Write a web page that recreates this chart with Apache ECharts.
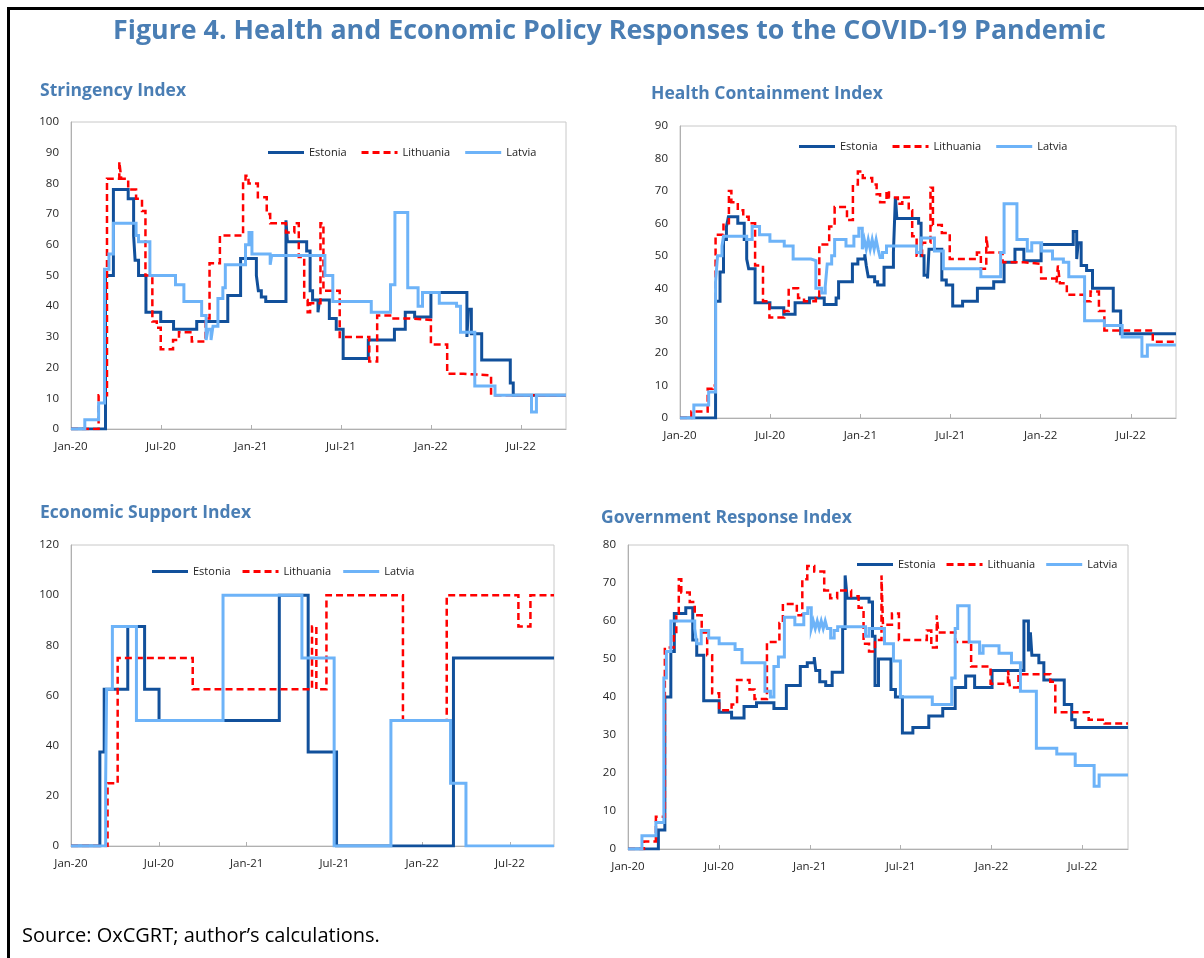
<!DOCTYPE html>
<html>
<head>
<meta charset="utf-8">
<script src="https://cdn.jsdelivr.net/npm/echarts@6/dist/echarts.min.js"></script>
<style>
html,body{margin:0;padding:0;background:#fff;}
#wrap{position:relative;width:1204px;height:958px;}
#chart{position:absolute;left:0;top:0;width:1204px;height:958px;}
#frame{position:absolute;left:7px;top:7px;right:-5px;bottom:-5px;border-left:3px solid #000;border-top:3px solid #000;pointer-events:none;}
</style>
</head>
<body>
<div id="wrap"><div id="chart"></div><div id="frame"></div></div>
<script>
// ---------------- DATA ----------------
const figureTitle = 'Figure 4. Health and Economic Policy Responses to the COVID-19 Pandemic';
const panelTitles = ['Stringency Index', 'Health Containment Index', 'Economic Support Index', 'Government Response Index'];
const countries = ['Estonia', 'Lithuania', 'Latvia'];
const tickLabels = ['Jan-20', 'Jul-20', 'Jan-21', 'Jul-21', 'Jan-22', 'Jul-22'];
const startDate = '2020-01-01';
const endDate = '2022-10-01';
const sourceNote = 'Source: OxCGRT; author\u2019s calculations.';

// Stringency Index
const stringencyEstonia = [['2020-01-01',0],['2020-03-11',50],['2020-03-27',78],['2020-04-26',75],['2020-05-07',63],['2020-05-10',55],['2020-05-17',50],['2020-06-01',38],['2020-07-01',35],['2020-07-27',32.5],['2020-09-12',35],['2020-11-14',43.5],['2020-12-10',55.5],['2021-01-11',50],['2021-01-15',45],['2021-01-21',43],['2021-01-30',41.5],['2021-03-12',68],['2021-03-15',61],['2021-04-23',58],['2021-04-30',45],['2021-05-05',42],['2021-05-16',38],['2021-05-19',42],['2021-06-08',36],['2021-06-22',32.5],['2021-07-06',23],['2021-08-26',29],['2021-10-18',32.5],['2021-11-09',38],['2021-11-28',36.5],['2021-12-31',44.5],['2022-03-14',30],['2022-03-17',39],['2022-03-23',31],['2022-04-13',22.5],['2022-06-10',15],['2022-06-16',11],['2022-10-01',11]];
const stringencyLithuania = [['2020-01-01',0],['2020-02-26',11],['2020-03-14',81.5],['2020-04-08',87],['2020-04-12',81.5],['2020-04-26',78],['2020-05-12',75],['2020-05-24',71],['2020-05-31',50],['2020-06-14',35],['2020-06-23',33],['2020-07-01',26],['2020-07-26',29],['2020-08-07',31.5],['2020-09-02',28.5],['2020-09-30',36],['2020-10-08',54],['2020-10-29',63],['2020-12-15',80],['2020-12-20',82.5],['2020-12-26',80],['2021-01-14',75.5],['2021-02-01',70],['2021-02-08',67],['2021-03-12',64],['2021-03-29',67],['2021-04-07',56],['2021-04-18',42],['2021-04-25',38],['2021-04-30',41],['2021-05-21',67],['2021-05-27',45],['2021-06-29',30],['2021-08-28',22],['2021-09-13',37],['2021-10-13',36],['2021-11-17',35.5],['2021-12-31',27.5],['2022-02-02',18],['2022-03-07',17.5],['2022-05-02',11],['2022-10-01',11]];
const stringencyLatvia = [['2020-01-01',0],['2020-01-29',3],['2020-02-26',8.5],['2020-03-09',52],['2020-03-18',57],['2020-03-27',67],['2020-05-12',63],['2020-05-17',61],['2020-06-09',50],['2020-07-31',47],['2020-08-17',41.5],['2020-09-22',37],['2020-10-01',29],['2020-10-05',32.5],['2020-10-11',29],['2020-10-15',33.5],['2020-10-25',42.5],['2020-11-04',46],['2020-11-09',53.5],['2020-12-20',60],['2020-12-27',64],['2021-01-02',57],['2021-02-08',53.5],['2021-02-11',56.5],['2021-05-30',50],['2021-06-15',41.5],['2021-09-01',38],['2021-10-10',47],['2021-10-19',70.5],['2021-11-14',46],['2021-12-05',40],['2021-12-14',44.5],['2022-01-17',41],['2022-02-21',40],['2022-03-01',31.5],['2022-03-30',14],['2022-05-10',11],['2022-07-23',5.5],['2022-08-02',11],['2022-10-01',11]];

// Health Containment Index
const healthEstonia = [['2020-01-01',0],['2020-03-13',36],['2020-03-22',45],['2020-03-29',55],['2020-04-04',59],['2020-04-08',62],['2020-04-27',60],['2020-05-10',55],['2020-05-15',49],['2020-05-19',46],['2020-06-01',35.5],['2020-07-01',34],['2020-07-29',32],['2020-08-21',35.5],['2020-09-19',37],['2020-10-19',35],['2020-11-12',37],['2020-11-17',42],['2020-12-15',47.5],['2020-12-26',49],['2021-01-09',50.5],['2021-01-12',47],['2021-01-16',43.5],['2021-01-29',42],['2021-02-04',41],['2021-02-17',46.5],['2021-03-08',51],['2021-03-12',68],['2021-03-15',61.5],['2021-04-28',60],['2021-05-03',50],['2021-05-09',44],['2021-05-16',43],['2021-05-19',52],['2021-06-14',42.5],['2021-06-23',41],['2021-07-06',34.5],['2021-07-26',36],['2021-08-25',40],['2021-09-27',42],['2021-10-18',48],['2021-11-09',52],['2021-11-27',48.5],['2022-01-01',53.5],['2022-03-07',57.5],['2022-03-14',49],['2022-03-17',54],['2022-03-23',47],['2022-04-03',45.5],['2022-04-15',40],['2022-05-27',33],['2022-06-11',26],['2022-10-01',26]];
const healthLithuania = [['2020-01-01',0],['2020-01-24',2],['2020-02-26',9],['2020-03-07',10],['2020-03-13',56.5],['2020-03-29',60],['2020-04-09',70],['2020-04-14',66.5],['2020-04-27',64],['2020-05-08',62],['2020-05-19',60],['2020-06-01',47],['2020-06-17',36],['2020-06-30',31],['2020-07-30',33],['2020-08-08',40],['2020-08-27',37],['2020-09-08',36],['2020-10-02',37],['2020-10-09',53.5],['2020-10-29',59],['2020-11-09',65],['2020-12-04',61],['2020-12-16',72],['2020-12-26',76],['2021-01-05',74],['2021-01-24',72],['2021-02-02',69],['2021-02-09',66.5],['2021-02-22',70],['2021-02-27',68],['2021-03-17',66],['2021-03-26',68],['2021-04-08',64],['2021-04-15',56],['2021-04-24',50],['2021-05-05',54],['2021-05-22',71],['2021-05-27',59.5],['2021-06-14',57],['2021-06-30',49],['2021-08-24',51],['2021-09-01',46],['2021-09-12',56],['2021-09-16',51],['2021-10-15',48],['2021-11-27',47.5],['2022-01-01',43],['2022-02-01',41.5],['2022-02-04',47],['2022-02-08',41.5],['2022-02-22',38],['2022-03-30',36],['2022-04-11',39],['2022-04-28',33],['2022-05-09',27],['2022-08-15',23.5],['2022-10-01',23.5]];
const healthLatvia = [['2020-01-01',0],['2020-01-29',4],['2020-02-28',8],['2020-03-13',42],['2020-03-17',50],['2020-03-26',53],['2020-03-29',56],['2020-05-15',55],['2020-05-26',59],['2020-06-10',56.5],['2020-07-01',54.5],['2020-07-30',53],['2020-08-17',49],['2020-09-22',48.5],['2020-10-02',40],['2020-10-14',38.5],['2020-10-21',40.5],['2020-10-25',47.5],['2020-11-03',50],['2020-11-09',55],['2020-12-02',53],['2020-12-18',56],['2020-12-28',58.5],['2021-01-04',52],['2021-01-08',55],['2021-01-12',52],['2021-01-16',55],['2021-01-20',52],['2021-01-24',55],['2021-01-28',52],['2021-02-01',55],['2021-02-05',52],['2021-02-09',49.5],['2021-02-14',51],['2021-02-22',53],['2021-04-24',51],['2021-05-03',55.5],['2021-05-30',51.5],['2021-06-17',46],['2021-09-01',43.5],['2021-10-11',51],['2021-10-18',66],['2021-11-13',55],['2021-12-04',51.5],['2021-12-13',54],['2022-01-02',51.5],['2022-01-24',49],['2022-02-15',48],['2022-02-26',43.5],['2022-03-30',30],['2022-05-09',28.5],['2022-06-14',25],['2022-07-24',19],['2022-08-04',22.5],['2022-10-01',22.5]];

// Economic Support Index
const economicEstonia = [['2020-01-01',0],['2020-03-01',37.5],['2020-03-10',62.5],['2020-04-28',87.5],['2020-06-02',62.5],['2020-07-02',50],['2021-03-09',100],['2021-05-08',37.5],['2021-07-06',0],['2022-03-06',75],['2022-10-01',75]];
const economicLithuania = [['2020-01-01',0],['2020-03-17',25],['2020-04-07',75],['2020-09-10',62.5],['2021-05-16',87.5],['2021-05-25',62.5],['2021-06-15',100],['2021-11-21',50],['2022-02-20',100],['2022-07-19',87.5],['2022-08-13',100],['2022-10-01',100]];
const economicLatvia = [['2020-01-01',0],['2020-03-13',25],['2020-03-15',62.5],['2020-03-27',87.5],['2020-05-16',50],['2020-11-12',100],['2021-04-25',75],['2021-07-01',0],['2021-10-27',50],['2022-02-28',25],['2022-04-01',0],['2022-10-01',0]];

// Government Response Index
const governmentEstonia = [['2020-01-01',0],['2020-03-02',5],['2020-03-15',40],['2020-03-27',52],['2020-04-03',62],['2020-04-26',63.5],['2020-05-10',55],['2020-05-18',51],['2020-06-01',39],['2020-07-02',36],['2020-07-27',34.5],['2020-08-21',37.5],['2020-09-15',38.5],['2020-10-20',37],['2020-11-14',43],['2020-12-12',48],['2020-12-26',49],['2021-01-09',50.5],['2021-01-12',47],['2021-01-20',44],['2021-02-01',43],['2021-02-14',46.5],['2021-03-07',58],['2021-03-12',72],['2021-03-16',66],['2021-04-29',65],['2021-05-06',56],['2021-05-11',43],['2021-05-18',50],['2021-06-12',42],['2021-06-21',40],['2021-07-05',30.5],['2021-07-26',32],['2021-08-27',35],['2021-09-24',37],['2021-10-19',42.5],['2021-11-09',45.5],['2021-11-27',42.5],['2022-01-01',47],['2022-03-06',60],['2022-03-15',52],['2022-03-19',57],['2022-03-22',51],['2022-04-05',49],['2022-04-15',44.5],['2022-05-26',38],['2022-06-10',34],['2022-06-17',32],['2022-10-01',32]];
const governmentLithuania = [['2020-01-01',0],['2020-02-02',2],['2020-02-26',8.5],['2020-03-15',53],['2020-04-02',56],['2020-04-07',62],['2020-04-12',71],['2020-04-17',67.5],['2020-05-04',65],['2020-05-14',61.5],['2020-05-28',57],['2020-06-08',51],['2020-06-18',41],['2020-07-02',36.5],['2020-07-27',38],['2020-08-07',44.5],['2020-09-01',42],['2020-09-11',39.5],['2020-10-06',54.5],['2020-10-31',59.5],['2020-11-07',64.5],['2020-12-05',61.5],['2020-12-16',71],['2020-12-26',74.5],['2021-01-09',73],['2021-01-29',68],['2021-02-10',66],['2021-02-24',68],['2021-03-24',66.5],['2021-04-08',63.5],['2021-04-18',54],['2021-04-29',52],['2021-05-11',55],['2021-05-24',72],['2021-05-27',59],['2021-06-14',62],['2021-06-28',55],['2021-08-23',57.5],['2021-09-01',53],['2021-09-12',61.5],['2021-09-15',57],['2021-10-19',54.5],['2021-11-20',48],['2021-12-29',43.5],['2022-02-02',47],['2022-02-06',42.5],['2022-02-23',46],['2022-04-28',44],['2022-05-08',36],['2022-07-14',34],['2022-08-15',33],['2022-10-01',33]];
const governmentLatvia = [['2020-01-01',0],['2020-01-29',3.5],['2020-02-26',7],['2020-03-13',45],['2020-03-18',52],['2020-03-27',60],['2020-05-14',58],['2020-05-18',54],['2020-05-27',57.5],['2020-06-11',55.5],['2020-07-02',54],['2020-08-03',52.5],['2020-08-17',49],['2020-10-02',41.5],['2020-10-13',40],['2020-10-20',48],['2020-10-29',50.5],['2020-11-10',61],['2020-12-01',59],['2020-12-19',62],['2020-12-27',63.5],['2021-01-03',58],['2021-01-07',60],['2021-01-11',58],['2021-01-15',60],['2021-01-19',58],['2021-01-23',60],['2021-01-27',58],['2021-01-31',60],['2021-02-04',58],['2021-02-11',55.5],['2021-02-18',57.5],['2021-02-25',58.5],['2021-04-22',56],['2021-04-29',58],['2021-05-30',54],['2021-06-17',49.5],['2021-07-01',40],['2021-09-03',38],['2021-10-12',45],['2021-10-19',58],['2021-10-24',64],['2021-11-16',54.5],['2021-12-07',51.5],['2021-12-14',53.5],['2022-01-15',51.5],['2022-02-09',49],['2022-02-27',41.5],['2022-03-31',26.5],['2022-05-11',25],['2022-06-17',22],['2022-07-25',16.5],['2022-08-04',19.5],['2022-10-01',19.5]];

// axis maxima / intervals per panel
const yMax = [100, 90, 120, 80];
const yStep = [10, 10, 20, 10];

// ---------------- CHART ----------------
const DAY0 = Date.parse(startDate);
const toDay = s => (Date.parse(s) - DAY0) / 86400000;
const pts = arr => arr.map(p => [toDay(p[0]), p[1]]);
const HALF = 182.5;

const panelData = [
  [stringencyEstonia, stringencyLithuania, stringencyLatvia],
  [healthEstonia, healthLithuania, healthLatvia],
  [economicEstonia, economicLithuania, economicLatvia],
  [governmentEstonia, governmentLithuania, governmentLatvia]
];

const grids = [
  {left: 71, top: 122, width: 495, height: 307},
  {left: 680, top: 126, width: 496, height: 292},
  {left: 71, top: 545, width: 483, height: 301},
  {left: 628, top: 545, width: 500, height: 304}
];
const legendPos = [
  {left: 268, top: 147, gap: 15},
  {left: 799, top: 141, gap: 15},
  {left: 152, top: 566, gap: 12},
  {left: 857, top: 559, gap: 11}
];
const subtitlePos = [
  {left: 40, top: 82},
  {left: 651, top: 85},
  {left: 40, top: 504},
  {left: 601, top: 509}
];

const BLUE = '#4a7eb4';
const FONT = '"Open Sans", "Noto Sans", sans-serif';
const styles = [
  {color: '#11509b', width: 3, type: 'solid'},
  {color: '#ff0000', width: 2.5, type: [7, 4]},
  {color: '#6db3f8', width: 3, type: 'solid'}
];
const legendIcons = [
  'rect',
  'path://M0,0h7v3h-7zM11,0h7v3h-7zM22,0h7v3h-7zM33,0h3v3h-3z',
  'rect'
];

const chart = echarts.init(document.getElementById('chart'), null, {renderer: 'canvas'});
const xMax = toDay(endDate);

const option = {
  animation: false,
  backgroundColor: '#fff',
  title: [
    {text: figureTitle, left: 113, top: 18, padding: 0, textStyle: {fontFamily: FONT, fontSize: 26.8, fontWeight: 'bold', color: BLUE}}
  ].concat(panelTitles.map((t, i) => ({
    text: t, left: subtitlePos[i].left, top: subtitlePos[i].top, padding: 0,
    textStyle: {fontFamily: FONT, fontSize: 17.5, fontWeight: 'bold', color: BLUE}
  }))).concat([
    {text: sourceNote, left: 22, top: 926, padding: 0, textStyle: {fontFamily: FONT, fontSize: 20, fontWeight: 'normal', color: '#000'}}
  ]),
  legend: legendPos.map(p => ({
    data: countries.map((c, j) => ({name: c, icon: legendIcons[j], itemStyle: {color: styles[j].color}})),
    left: p.left, top: p.top, padding: 0,
    itemWidth: 36, itemHeight: 3, itemGap: p.gap,
    textStyle: {fontFamily: FONT, fontSize: 11, color: '#222'}
  })),
  grid: grids.map(g => Object.assign({show: true, borderColor: '#c8c8c8', borderWidth: 1, backgroundColor: 'transparent'}, g)),
  xAxis: grids.map((g, i) => ({
    type: 'value', gridIndex: i, min: 0, max: xMax, interval: HALF,
    axisLine: {show: true, lineStyle: {color: '#b0b0b0', width: 1}},
    axisTick: {show: true, inside: true, length: 4, lineStyle: {color: '#b0b0b0'}},
    splitLine: {show: false},
    axisLabel: {
      show: true, margin: 12, color: '#262626', fontFamily: FONT, fontSize: 11.5,
      showMaxLabel: false,
      formatter: v => {
        const k = Math.round(v / HALF);
        return (Math.abs(v - k * HALF) < 1 && k < tickLabels.length) ? tickLabels[k] : '';
      }
    }
  })),
  yAxis: grids.map((g, i) => ({
    type: 'value', gridIndex: i, min: 0, max: yMax[i], interval: yStep[i],
    axisLine: {show: true, lineStyle: {color: '#b0b0b0', width: 1}},
    axisTick: {show: false},
    splitLine: {show: false},
    axisLabel: {margin: 12, color: '#262626', fontFamily: FONT, fontSize: 11.5}
  })),
  series: []
};

panelData.forEach((set, i) => {
  set.forEach((arr, j) => {
    option.series.push({
      name: countries[j], type: 'line', step: 'end',
      xAxisIndex: i, yAxisIndex: i,
      symbol: 'none', showSymbol: false,
      data: pts(arr),
      lineStyle: {color: styles[j].color, width: styles[j].width, type: styles[j].type, cap: 'butt', join: 'miter'},
      itemStyle: {color: styles[j].color},
      z: 2 + j
    });
  });
});

chart.setOption(option);
</script>
</body>
</html>
